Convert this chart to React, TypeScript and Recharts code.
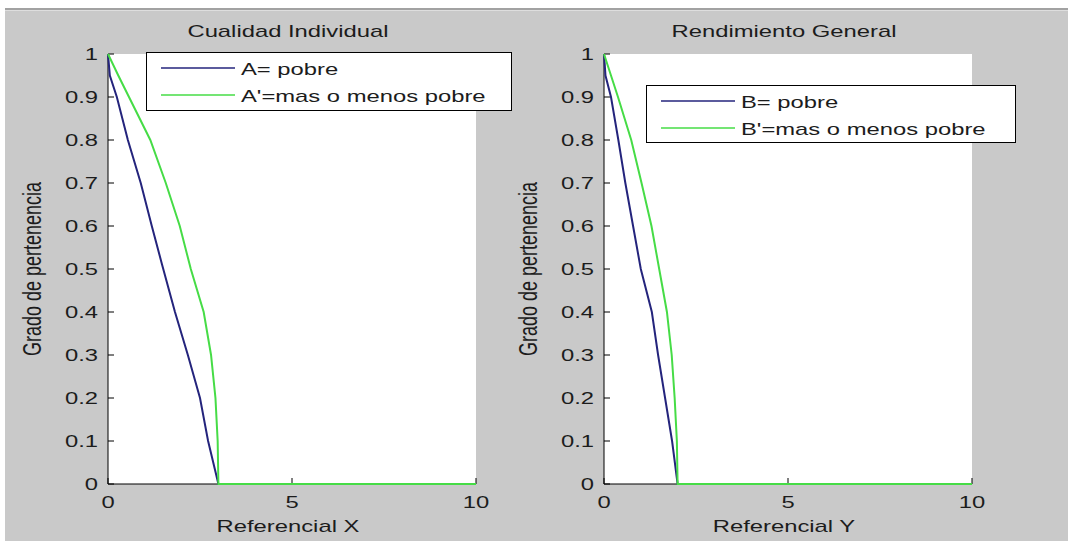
import React from 'react';
import { LineChart, Line, XAxis, YAxis, Legend, Label } from 'recharts';

// ticks
const xTicks = [0, 5, 10];
const yTicks = [0, 0.1, 0.2, 0.3, 0.4, 0.5, 0.6, 0.7, 0.8, 0.9, 1];

// Cualidad Individual
const aX = [0, 0.05, 0.24, 0.54, 0.89, 1.19, 1.47, 1.82, 2.17, 2.5, 2.72, 3.0, 10];
const aY = [1, 0.95, 0.9, 0.8, 0.7, 0.6, 0.51, 0.4, 0.3, 0.2, 0.1, 0, 0];
const a2X = [0, 0.28, 0.57, 1.15, 1.57, 1.95, 2.25, 2.6, 2.8, 2.92, 2.98, 3.0, 10];
const a2Y = [1, 0.95, 0.9, 0.8, 0.7, 0.6, 0.5, 0.4, 0.3, 0.2, 0.1, 0, 0];

// Rendimiento General
const bX = [0, 0.04, 0.19, 0.39, 0.58, 0.79, 1.0, 1.3, 1.47, 1.66, 1.85, 2.0, 10];
const bY = [1, 0.95, 0.9, 0.8, 0.7, 0.6, 0.5, 0.4, 0.3, 0.2, 0.1, 0, 0];
const b2X = [0, 0.19, 0.38, 0.74, 1.02, 1.29, 1.5, 1.71, 1.84, 1.92, 1.98, 2.0, 10];
const b2Y = [1, 0.95, 0.9, 0.8, 0.7, 0.6, 0.5, 0.4, 0.3, 0.2, 0.1, 0, 0];

const titles = ['Cualidad Individual', 'Rendimiento General'];
const xLabels = ['Referencial X', 'Referencial Y'];
const yLabel = 'Grado de pertenencia';
const namesA = ['A= pobre', "A'=mas o menos pobre"];
const namesB = ['B= pobre', "B'=mas o menos pobre"];

const BLUE = '#24247c';
const GREEN = '#46dc46';
const BG = '#c9c9c9';
const INK = '#1c1c1c';
const FONT = '"Liberation Sans", Arial, sans-serif';
const SX = 1.4; // the picture is stretched sideways

// plot box inside each 534x541 panel
const M = { top: 54, right: 58, bottom: 27, left: 48 };
const Y_AXIS_W = 60;
const X_AXIS_H = 30;

const toPoints = (xs: number[], ys: number[]) => xs.map((x, i) => ({ x, y: ys[i] }));

const YTick = (props: any) => {
  const { x, y, payload } = props;
  return (
    <g>
      <line x1={x} x2={x + 6} y1={y} y2={y} stroke="#000" strokeWidth={1} />
      <g transform={`translate(${x - 10},${y + 6}) scale(${SX},1)`}>
        <text textAnchor="end" fontSize={17} fill={INK} fontFamily={FONT}>{String(payload.value)}</text>
      </g>
    </g>
  );
};

const XTick = (props: any) => {
  const { x, y, payload } = props;
  return (
    <g>
      <line x1={x} x2={x} y1={y} y2={y - 6} stroke="#000" strokeWidth={1} />
      <g transform={`translate(${x},${y + 24}) scale(${SX},1)`}>
        <text textAnchor="middle" fontSize={17} fill={INK} fontFamily={FONT}>{String(payload.value)}</text>
      </g>
    </g>
  );
};

const makeLegend = (names: string[], w: number, h: number) => (props: any) => {
  const items = [...(props.payload || [])].sort(
    (p: any, q: any) => names.indexOf(p.value) - names.indexOf(q.value)
  );
  return (
    <svg width={w} height={h} style={{ display: 'block' }}>
      <rect x={0.5} y={0.5} width={w - 1} height={h - 1} fill="#fff" stroke="#000" />
      {items.map((it: any, i: number) => (
        <g key={it.value}>
          <line x1={15} x2={89} y1={16 + i * 27} y2={16 + i * 27} stroke={it.color} strokeWidth={1.5} />
          <g transform={`translate(95,${23 + i * 27}) scale(${SX},1)`}>
            <text fontSize={17} fill={INK} fontFamily={FONT}>{it.value}</text>
          </g>
        </g>
      ))}
    </svg>
  );
};

type PanelProps = {
  left: number;
  title: string;
  xLabel: string;
  names: string[];
  blue: { x: number; y: number }[];
  green: { x: number; y: number }[];
  legendBox: { left: number; top: number; width: number; height: number };
};

const Panel = ({ left, title, xLabel, names, blue, green, legendBox }: PanelProps) => (
  <div style={{ position: 'absolute', left, top: 0, width: 534, height: 541 }}>
    {/* white axes area behind the svg */}
    <div
      style={{
        position: 'absolute', left: M.left + Y_AXIS_W, top: M.top,
        width: 534 - M.left - Y_AXIS_W - M.right, height: 541 - M.top - M.bottom - X_AXIS_H,
        background: '#fff',
      }}
    />
    <div
      style={{
        position: 'absolute', left: 288, top: 23, fontSize: 17, lineHeight: '17px', color: INK,
        fontFamily: FONT, whiteSpace: 'nowrap', transform: `translateX(-50%) scaleX(${SX})`,
      }}
    >
      {title}
    </div>
    <LineChart width={534} height={541} margin={M}>
      <XAxis
        type="number" dataKey="x" domain={[0, 10]} ticks={xTicks} interval={0} height={X_AXIS_H}
        tickSize={0} tickMargin={0} tickLine={false} tick={<XTick />} axisLine={{ stroke: '#000' }}
      >
        <Label
          content={(p: any) => {
            const vb = p.viewBox;
            return (
              <g transform={`translate(${vb.x + vb.width / 2 - 4},532) scale(${SX},1)`}>
                <text textAnchor="middle" fontSize={17} fill={INK} fontFamily={FONT}>{xLabel}</text>
              </g>
            );
          }}
        />
      </XAxis>
      <YAxis
        type="number" domain={[0, 1]} ticks={yTicks} interval={0} width={Y_AXIS_W}
        tickSize={0} tickMargin={0} tickLine={false} tick={<YTick />} axisLine={{ stroke: '#000' }}
      >
        <Label
          content={(p: any) => {
            const vb = p.viewBox;
            return (
              <g transform={`translate(${vb.x - 7},${vb.y + vb.height / 2}) scale(${SX},1) rotate(-90)`}>
                <text textAnchor="middle" fontSize={18} fill={INK} fontFamily={FONT}>{yLabel}</text>
              </g>
            );
          }}
        />
      </YAxis>
      <Line {...({ zIndex: 2000 } as any)} data={blue} dataKey="y" name={names[0]} type="linear" stroke={BLUE} strokeWidth={2} dot={false} isAnimationActive={false} />
      <Line {...({ zIndex: 2001 } as any)} data={green} dataKey="y" name={names[1]} type="linear" stroke={GREEN} strokeWidth={2} dot={false} isAnimationActive={false} />
      <Legend
        layout="vertical" align="center" verticalAlign="middle"
        content={makeLegend(names, legendBox.width, legendBox.height)}
        wrapperStyle={{ left: legendBox.left, top: legendBox.top, width: legendBox.width, height: legendBox.height }}
      />
    </LineChart>
  </div>
);

export default function App() {
  return (
    <div style={{ position: 'absolute', left: 0, top: 0, width: 1068, height: 541, background: BG, overflow: 'hidden' }}>
      <div style={{ position: 'absolute', left: 0, top: 0, width: 1068, height: 8, background: '#fff' }} />
      <div style={{ position: 'absolute', left: 0, top: 8, width: 1068, height: 2, background: '#a2a2a2' }} />
      <div style={{ position: 'absolute', left: 0, top: 10, width: 1068, height: 1, background: '#dedede' }} />
      <div style={{ position: 'absolute', left: 0, top: 8, width: 5, height: 533, background: '#fff' }} />
      <Panel
        left={0} title={titles[0]} xLabel={xLabels[0]} names={namesA}
        blue={toPoints(aX, aY)} green={toPoints(a2X, a2Y)}
        legendBox={{ left: 146, top: 52, width: 366, height: 59 }}
      />
      <Panel
        left={496} title={titles[1]} xLabel={xLabels[1]} names={namesB}
        blue={toPoints(bX, bY)} green={toPoints(b2X, b2Y)}
        legendBox={{ left: 150, top: 85, width: 370, height: 58 }}
      />
    </div>
  );
}
